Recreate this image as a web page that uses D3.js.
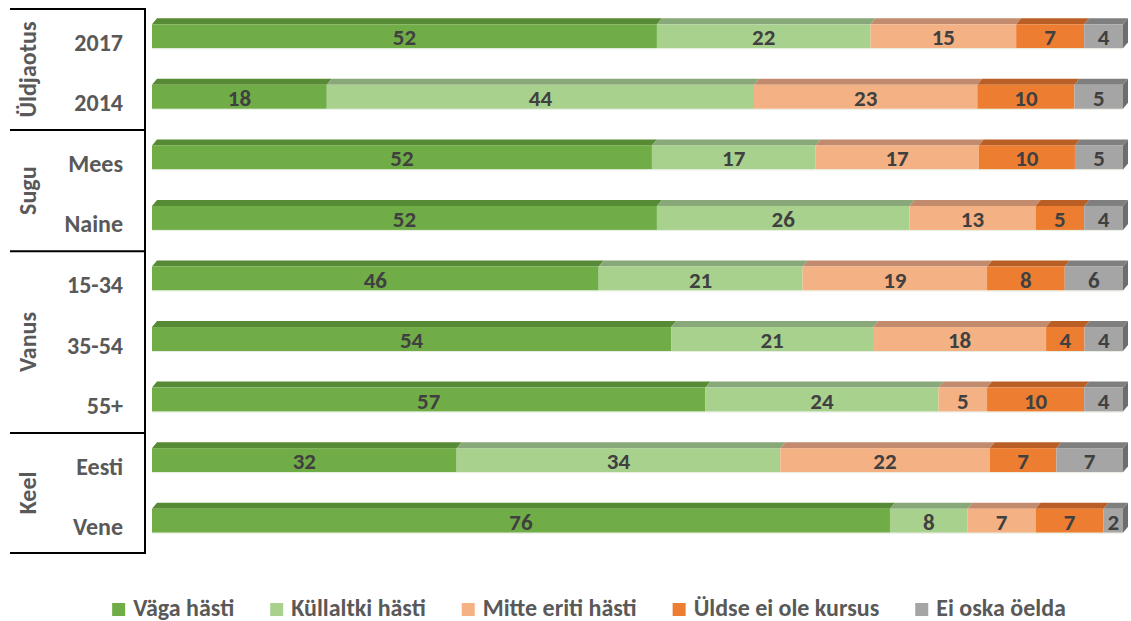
<!DOCTYPE html>
<html>
<head>
<meta charset="utf-8">
<script src="https://cdn.jsdelivr.net/npm/d3@7/dist/d3.min.js"></script>
<style>
  html, body { margin: 0; padding: 0; background: #fff; }
  svg { display: block; font-family: Calibri, Carlito, "Open Sans", Lato, sans-serif; font-weight: bold; }
</style>
</head>
<body>
<div id="chart"></div>
<script>
const categories = ["2017", "2014", "Mees", "Naine", "15-34", "35-54", "55+", "Eesti", "Vene"];
const groups = [
  { name: "Üldjaotus", from: "2017", to: "2014" },
  { name: "Sugu", from: "Mees", to: "Naine" },
  { name: "Vanus", from: "15-34", to: "55+" },
  { name: "Keel", from: "Eesti", to: "Vene" }
];
const seriesNames = ["Väga hästi", "Küllaltki hästi", "Mitte eriti hästi", "Üldse ei ole kursus", "Ei oska öelda"];
const vagaHasti      = [52, 18, 52, 52, 46, 54, 57, 32, 76];
const kullaltkiHasti = [22, 44, 17, 26, 21, 21, 24, 34, 8];
const mitteEriti     = [15, 23, 17, 13, 19, 18, 5, 22, 7];
const uldseEiOle     = [7, 10, 10, 5, 8, 4, 10, 7, 7];
const eiOska         = [4, 5, 5, 4, 6, 4, 4, 7, 2];

const seriesValues = [vagaHasti, kullaltkiHasti, mitteEriti, uldseEiOle, eiOska];
const frontColors = ["#70ad47", "#a9d18e", "#f4b183", "#ed7d31", "#a5a5a5"];
const topColors = ["#568a35", "#88a879", "#c28b6d", "#b95f26", "#7f7f7f"];
const sideColor = "#6d6d6d";

const width = 1131, height = 621;
const svg = d3.select("#chart").append("svg")
  .attr("width", width)
  .attr("height", height);

// 100% stacked: each row is scaled to its own total
const x = d3.scaleLinear().domain([0, 1]).range([152, 1123]);
const y = d3.scalePoint().domain(categories).range([5, 550]).padding(0.5);
const step = y.step();
const barH = 24;
const dx = 5, dy = 6;

const rows = categories.map((c, i) => {
  const total = d3.sum(seriesValues, vals => vals[i]);
  let acc = 0;
  return {
    cat: c,
    segs: seriesValues.map((vals, k) => {
      const s = { k, v: vals[i], x0: acc / total, x1: (acc + vals[i]) / total };
      acc += vals[i];
      return s;
    })
  };
});

// bars
const rowG = svg.append("g").selectAll("g")
  .data(rows)
  .join("g")
  .attr("transform", d => `translate(0,${y(d.cat) - barH / 2 + 1})`);

rowG.each(function (row) {
  const g = d3.select(this);
  const last = row.segs[row.segs.length - 1];
  // top faces
  g.selectAll("path.top")
    .data(row.segs)
    .join("path")
    .attr("class", "top")
    .attr("fill", d => topColors[d.k])
    .attr("d", d => `M${x(d.x0)},0 L${x(d.x1)},0 L${x(d.x1) + dx},${-dy} L${x(d.x0) + dx},${-dy} Z`);
  // side face of the last segment
  g.append("path")
    .attr("fill", sideColor)
    .attr("d", `M${x(last.x1)},0 L${x(last.x1) + dx},${-dy} L${x(last.x1) + dx},${barH - dy} L${x(last.x1)},${barH} Z`);
  // front faces
  g.selectAll("rect.front")
    .data(row.segs)
    .join("rect")
    .attr("class", "front")
    .attr("x", d => x(d.x0))
    .attr("width", d => x(d.x1) - x(d.x0))
    .attr("y", 0)
    .attr("height", barH)
    .attr("fill", d => frontColors[d.k]);
  g.append("line")
    .attr("x1", x(0)).attr("x2", x(last.x1))
    .attr("y1", barH + 0.5).attr("y2", barH + 0.5)
    .attr("stroke", "#e6eee0").attr("stroke-width", 1);
  // value labels
  g.selectAll("text.val")
    .data(row.segs)
    .join("text")
    .attr("class", "val")
    .attr("x", d => (x(d.x0) + x(d.x1)) / 2)
    .attr("y", barH / 2 + 1)
    .attr("text-anchor", "middle")
    .attr("dominant-baseline", "central")
    .attr("fill", "#404040")
    .attr("font-size", 23)
    .text(d => d.v);
});

// category labels
svg.append("g").selectAll("text")
  .data(categories)
  .join("text")
  .attr("x", 123)
  .attr("y", d => y(d) + 7)
  .attr("text-anchor", "end")
  .attr("dominant-baseline", "central")
  .attr("fill", "#595959")
  .attr("font-size", 24)
  .text(d => d);

// group table lines
const lineY = c => y(c) - step / 2 + 4;
const sepYs = groups.map(g => lineY(g.from)).concat([y(categories[categories.length - 1]) + step / 2 + 3]);
svg.append("g").selectAll("line")
  .data(sepYs)
  .join("line")
  .attr("x1", 10).attr("x2", 145)
  .attr("y1", d => d).attr("y2", d => d)
  .attr("stroke", "#000").attr("stroke-width", 2);
svg.append("line")
  .attr("x1", 145).attr("x2", 145)
  .attr("y1", sepYs[0] - 1).attr("y2", sepYs[sepYs.length - 1] + 1)
  .attr("stroke", "#000").attr("stroke-width", 2);

// group labels
svg.append("g").selectAll("text")
  .data(groups)
  .join("text")
  .attr("transform", (d, i) => `translate(27,${(sepYs[i] + sepYs[i + 1]) / 2}) rotate(-90)`)
  .attr("text-anchor", "middle")
  .attr("dominant-baseline", "central")
  .attr("fill", "#595959")
  .attr("font-size", 24)
  .text(d => d.name);

// legend
const legend = svg.append("g");
const items = legend.selectAll("g")
  .data(seriesNames)
  .join("g");
items.append("rect")
  .attr("width", 13).attr("height", 13)
  .attr("y", -13)
  .attr("fill", (d, i) => frontColors[i]);
items.append("text")
  .attr("x", 21)
  .attr("y", 0)
  .attr("fill", "#595959")
  .attr("font-size", 24)
  .text(d => d);
let lx = 0;
const offsets = [];
items.each(function () {
  offsets.push(lx);
  lx += 21 + d3.select(this).select("text").node().getComputedTextLength() + 36;
});
const totalW = lx - 36;
const startX = 589 - totalW / 2;
items.attr("transform", (d, i) => `translate(${startX + offsets[i]},616)`);
</script>
</body>
</html>
